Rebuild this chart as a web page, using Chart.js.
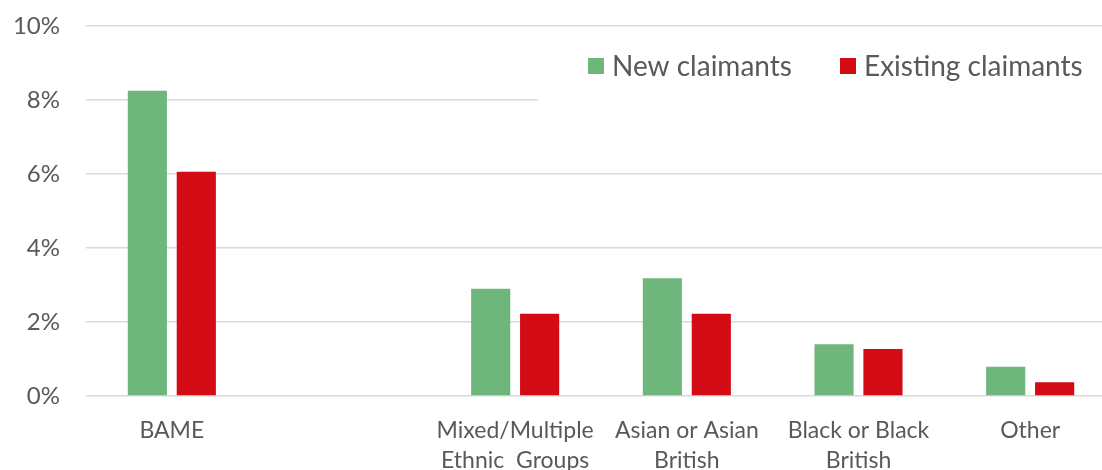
<!DOCTYPE html>
<html>
<head>
<meta charset="utf-8">
<script src="https://cdn.jsdelivr.net/npm/chart.js@4/dist/chart.umd.min.js"></script>
<style>
  html, body { margin: 0; padding: 0; background: #fff; overflow: hidden; }
  #wrap { width: 1116px; height: 470px; }
</style>
</head>
<body>
<div id="wrap"><canvas id="grafico" width="1116" height="470"></canvas></div>
<script>
// categorias (la segunda queda vacia, como en el original)
var categorias = ['BAME', '', ['Mixed/Multiple', 'Ethnic  Groups'], ['Asian or Asian', 'British'], ['Black or Black', 'British'], 'Other'];
var nuevos = [8.25, null, 2.9, 3.18, 1.4, 0.79];
var existentes = [6.06, null, 2.22, 2.22, 1.27, 0.37];
var nombres = ['New claimants', 'Existing claimants'];
var colores = ['#6fb67d', '#d20b14'];
var ticksY = [0, 2, 4, 6, 8, 10];

var fuente = 'Lato, "Open Sans", sans-serif';
var gris = '#595959';

// leyenda dentro del area del grafico, con fondo blanco que tapa la rejilla
var leyendaDentro = {
    id: 'leyendaDentro',
    beforeDatasetsDraw: function (chart) {
        var ctx = chart.ctx;
        var area = chart.chartArea;
        ctx.save();
        ctx.fillStyle = '#fff';
        ctx.fillRect(538, area.top + 12, area.right - 538 + 2, 110);
        ctx.font = '28px ' + fuente;
        ctx.textBaseline = 'middle';
        var x = 588;
        var y = 66;
        for (var i = 0; i < nombres.length; i++) {
            ctx.fillStyle = colores[i];
            ctx.fillRect(x, y - 8, 16, 16);
            ctx.fillStyle = gris;
            ctx.fillText(nombres[i], x + 24, y + 1);
            x = 840;
        }
        ctx.restore();
    }
};

var grafico = new Chart(document.getElementById('grafico'), {
    type: 'bar',
    data: {
        labels: categorias,
        datasets: [{
            label: nombres[0],
            data: nuevos,
            backgroundColor: colores[0],
            categoryPercentage: 0.57,
            barPercentage: 0.8,
        }, {
            label: nombres[1],
            data: existentes,
            backgroundColor: colores[1],
            categoryPercentage: 0.57,
            barPercentage: 0.8,
        }],
    },
    options: {
        responsive: false,
        animation: false,
        layout: { padding: { top: 26, left: 0, right: 0, bottom: 0 } },
        plugins: {
            legend: { display: false },
            tooltip: { enabled: false },
        },
        scales: {
            x: {
                grid: { display: false, drawTicks: false },
                border: { display: false },
                ticks: {
                    color: gris,
                    font: { family: fuente, size: 23, lineHeight: 1.3 },
                    padding: 20,
                    maxRotation: 0,
                    autoSkip: false,
                },
                afterFit: function (scale) {
                    scale.height = 74;
                    scale.paddingLeft = 0;
                    scale.paddingRight = 0;
                },
            },
            y: {
                min: 0,
                max: 10,
                afterBuildTicks: function (scale) {
                    scale.ticks = ticksY.map(function (v) { return { value: v }; });
                },
                grid: { color: '#d9d9d9', lineWidth: 1.5, drawTicks: false },
                border: { display: false },
                ticks: {
                    color: gris,
                    font: { family: fuente, size: 24 },
                    padding: 26,
                    callback: function (v) { return v + '%'; },
                },
                afterFit: function (scale) {
                    scale.width = 86;
                    scale.paddingTop = 0;
                    scale.paddingBottom = 0;
                },
            },
        },
    },
    plugins: [leyendaDentro],
});
</script>
</body>
</html>
